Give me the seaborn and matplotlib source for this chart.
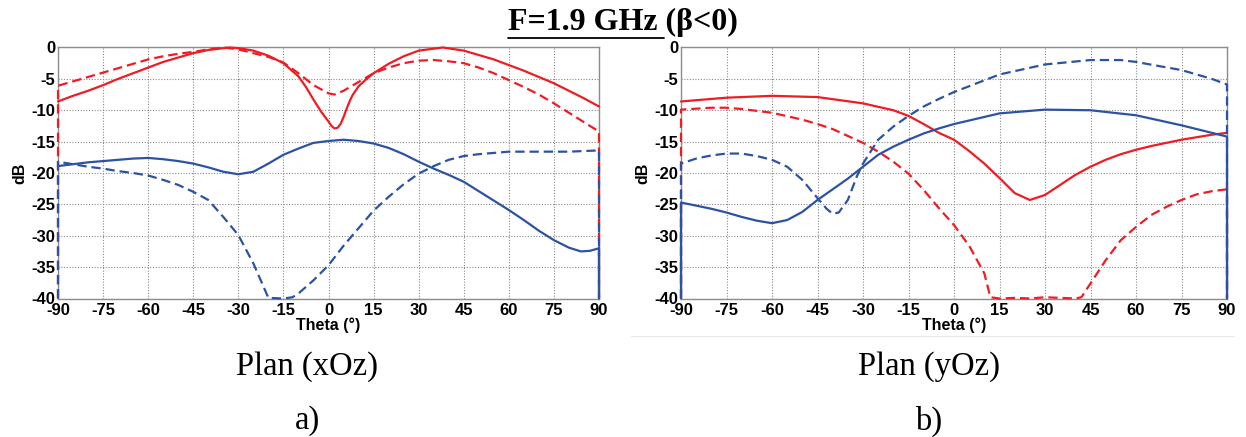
import matplotlib
matplotlib.use("Agg")
import matplotlib.pyplot as plt
from matplotlib.lines import Line2D
import seaborn as sns

sns.set_theme(style="white")
plt.rcParams['font.family'] = ['Liberation Sans', 'DejaVu Sans']
plt.rcParams['text.color'] = 'black'
plt.rcParams['axes.labelcolor'] = 'black'

# ---------------- data : plan xOz (a) ----------------
XOZ_RS_T = [-90, -85, -80, -75, -70, -65, -60, -55, -50, -45, -40, -33, -30, -25, -20, -15, -10, -7.5, -5, -2.5, 0, 1, 2, 3, 4, 5, 6, 7, 8, 10, 12, 15, 20, 25, 30, 38, 45, 50, 55, 60, 65, 70, 75, 80, 85, 90]
XOZ_RS_V = [-8.6, -7.7, -6.9, -6.0, -5.0, -4.1, -3.2, -2.3, -1.6, -0.9, -0.4, 0.0, -0.1, -0.5, -1.3, -2.5, -4.6, -6.3, -8.3, -10.2, -11.8, -12.5, -12.9, -12.8, -12.2, -11.1, -9.8, -8.6, -7.6, -6.2, -5.3, -4.1, -2.6, -1.4, -0.5, 0.0, -0.5, -1.2, -1.9, -2.8, -3.7, -4.7, -5.7, -6.9, -8.1, -9.4]

XOZ_RD_T = [-90, -90, -85, -80, -75, -70, -65, -60, -55, -50, -45, -40, -35, -30, -25, -20, -15, -10, -5, 0, 2, 5, 10, 15, 20, 25, 30, 35, 40, 45, 50, 55, 60, 65, 70, 75, 80, 85, 90, 90]
XOZ_RD_V = [-40, -6.1, -5.4, -4.7, -4.0, -3.3, -2.6, -1.9, -1.4, -1.0, -0.7, -0.3, 0.0, -0.3, -0.9, -1.5, -2.4, -4.1, -6.0, -7.3, -7.5, -6.9, -5.5, -4.1, -3.2, -2.5, -2.1, -2.0, -2.2, -2.5, -3.2, -4.1, -5.2, -6.3, -7.5, -8.9, -10.4, -11.9, -13.4, -40]

XOZ_BS_T = [-90, -85, -80, -75, -70, -65, -60, -55, -50, -45, -40, -35, -30, -25, -20, -15, -10, -5, 0, 5, 10, 15, 20, 25, 30, 35, 40, 45, 50, 55, 60, 65, 70, 75, 80, 84, 87, 90, 90]
XOZ_BS_V = [-18.9, -18.6, -18.3, -18.1, -17.9, -17.7, -17.6, -17.8, -18.1, -18.5, -19.1, -19.8, -20.2, -19.8, -18.5, -17.1, -16.1, -15.2, -14.9, -14.7, -14.9, -15.3, -16.0, -17.0, -18.2, -19.3, -20.3, -21.4, -22.9, -24.4, -25.9, -27.5, -29.2, -30.7, -31.9, -32.5, -32.4, -32.0, -40]

XOZ_BD_T = [-90, -90, -85, -80, -75, -70, -65, -60, -55, -50, -45, -40, -35, -30, -25, -20, -15, -12, -10, -5, 0, 5, 10, 15, 20, 25, 30, 35, 40, 45, 50, 55, 60, 65, 70, 75, 80, 85, 90, 90]
XOZ_BD_V = [-40, -18.2, -18.6, -19.0, -19.3, -19.7, -20.0, -20.4, -21.1, -21.9, -23.0, -24.3, -27.0, -29.9, -34.4, -39.9, -40.0, -39.8, -39.2, -37.1, -34.7, -31.6, -28.8, -26.0, -23.8, -21.8, -20.1, -18.9, -17.9, -17.3, -17.0, -16.8, -16.6, -16.6, -16.6, -16.6, -16.6, -16.5, -16.4, -40]

# ---------------- data : plan yOz (b) ----------------
YOZ_RS_T = [-90, -75, -60, -45, -30, -20, -15, -10, -5, 0, 5, 10, 15, 20, 25, 30, 35, 40, 45, 50, 55, 60, 65, 70, 75, 80, 85, 90]
YOZ_RS_V = [-8.6, -8.0, -7.7, -7.9, -8.9, -10.0, -10.9, -12.2, -13.6, -14.7, -16.5, -18.5, -20.8, -23.2, -24.3, -23.5, -21.9, -20.3, -19.0, -17.9, -17.0, -16.3, -15.7, -15.2, -14.7, -14.3, -13.9, -13.6]

YOZ_RD_T = [-90, -90, -80, -75, -70, -60, -50, -45, -40, -30, -25, -20, -15, -10, -5, 0, 5, 10, 12, 15, 20, 25, 30, 35, 40, 42, 45, 50, 55, 60, 65, 70, 75, 80, 85, 90, 90]
YOZ_RD_V = [-40, -9.9, -9.6, -9.6, -9.8, -10.4, -11.5, -12.2, -13.0, -15.2, -16.6, -18.2, -20.1, -22.7, -25.6, -28.3, -31.6, -36.0, -39.8, -40.0, -39.9, -40.0, -39.8, -39.9, -40.0, -39.8, -37.6, -33.9, -30.7, -28.6, -26.7, -25.4, -24.3, -23.4, -22.9, -22.6, -40]

YOZ_BS_T = [-90, -90, -80, -75, -70, -65, -60, -55, -50, -45, -40, -35, -30, -25, -20, -15, -10, -5, 0, 15, 30, 45, 60, 75, 90, 90]
YOZ_BS_V = [-40, -24.7, -25.7, -26.3, -27.0, -27.6, -28.0, -27.5, -26.2, -24.3, -22.6, -20.9, -19.0, -17.1, -15.8, -14.7, -13.7, -12.9, -12.2, -10.5, -9.9, -10.0, -10.8, -12.4, -14.2, -40]

YOZ_BD_T = [-90, -90, -85, -80, -75, -70, -65, -60, -55, -50, -45, -42, -40, -38, -35, -32, -30, -25, -20, -15, -10, -5, 0, 15, 30, 45, 55, 60, 75, 85, 90, 90]
YOZ_BD_V = [-40, -18.5, -17.7, -17.2, -16.9, -16.9, -17.3, -17.9, -19.0, -21.1, -24.0, -25.7, -26.5, -26.3, -24.3, -20.5, -18.5, -14.7, -12.6, -10.9, -9.4, -8.2, -7.1, -4.3, -2.7, -2.0, -2.0, -2.3, -3.6, -5.0, -5.9, -40]

X_TICKS = [-90, -75, -60, -45, -30, -15, 0, 15, 30, 45, 60, 75, 90]
Y_TICKS = [-40, -35, -30, -25, -20, -15, -10, -5, 0]

RED = '#ee1d24'
BLUE = '#2c53a3'

W, H = 1246, 437
fig = plt.figure(figsize=(W / 100, H / 100), dpi=100)
fig.patch.set_facecolor('white')

def box(x0, x1, y0, y1):
    return [x0 / W, 1 - y1 / H, (x1 - x0) / W, (y1 - y0) / H]

ax1 = fig.add_axes(box(58, 599, 47.5, 298.5))
ax2 = fig.add_axes(box(681, 1227, 47.5, 298.5))

def curve(ax, t, v, color, dashed):
    sns.lineplot(x=t, y=v, ax=ax, color=color, linewidth=1.6,
                 estimator=None, sort=False, legend=False)
    ln = ax.lines[-1]
    if dashed:
        ln.set_dashes([4.2, 2.2])
    ln.set_clip_on(False)
    ln.set_zorder(3)

curve(ax1, XOZ_RS_T, XOZ_RS_V, RED, False)
curve(ax1, XOZ_RD_T, XOZ_RD_V, RED, True)
curve(ax1, XOZ_BS_T, XOZ_BS_V, BLUE, False)
curve(ax1, XOZ_BD_T, XOZ_BD_V, BLUE, True)

curve(ax2, YOZ_RS_T, YOZ_RS_V, RED, False)
curve(ax2, YOZ_RD_T, YOZ_RD_V, RED, True)
curve(ax2, YOZ_BS_T, YOZ_BS_V, BLUE, False)
curve(ax2, YOZ_BD_T, YOZ_BD_V, BLUE, True)

for ax in (ax1, ax2):
    ax.set_xlim(-90, 90)
    ax.set_ylim(-40, 0)
    ax.set_xticks(X_TICKS)
    ax.set_yticks(Y_TICKS)
    ax.set_xticklabels([str(v) for v in X_TICKS], fontsize=12, fontweight='bold')
    ax.set_yticklabels([str(v) for v in Y_TICKS], fontsize=12, fontweight='bold')
    ax.tick_params(axis='both', direction='in', length=4, width=0.8,
                   color='#808080', labelcolor='black', pad=2)
    ax.tick_params(axis='x', pad=3)
    ax.grid(True, linestyle=(0, (1, 1.5)), color='#8a8a8a', linewidth=0.8)
    for s in ax.spines.values():
        s.set_visible(True)
        s.set_color('#8c8c8c')
        s.set_linewidth(1.0)
    ax.set_xlabel('Theta (°)', fontsize=11.5, fontweight='bold', labelpad=0, color='black')
    ax.set_ylabel('dB', fontsize=11.5, fontweight='bold', labelpad=3, color='black')
    ax.set_facecolor('white')

# title with partial underline
serif = ['Liberation Serif', 'DejaVu Serif']
title_y = 1 - 22 / H
t = fig.text(0.5, title_y, 'F=1.9 GHz (β<0)', ha='center', va='center',
             fontfamily=serif, fontweight='bold', fontsize=23, color='black')
fig.canvas.draw()
r = fig.canvas.get_renderer()
bb = t.get_window_extent(r)
tmp = fig.text(0, 0, 'F=1.9 GHz', fontfamily=serif, fontweight='bold', fontsize=23)
wpart = tmp.get_window_extent(r).width
tmp.remove()
sp = 6
fig.add_artist(Line2D([bb.x0 / W, (bb.x0 + wpart + sp) / W], [1 - 37.5 / H, 1 - 37.5 / H],
                      transform=fig.transFigure, color='black', linewidth=1.3))

for cx, lab, letter in ((307, 'Plan (xOz)', 'a)'), (929, 'Plan (yOz)', 'b)')):
    fig.text(cx / W, 1 - 367 / H, lab, ha='center', va='center',
             fontfamily=serif, fontsize=23.5, color='black')
    fig.text(cx / W, 1 - 421 / H, letter, ha='center', va='center',
             fontfamily=serif, fontsize=23.5, color='black')

fig.add_artist(Line2D([631 / W, 1234 / W], [1 - 335.5 / H, 1 - 335.5 / H],
                      transform=fig.transFigure, color='#e8e8e8', linewidth=0.8))

fig.savefig('out.png', dpi=100, facecolor='white')
